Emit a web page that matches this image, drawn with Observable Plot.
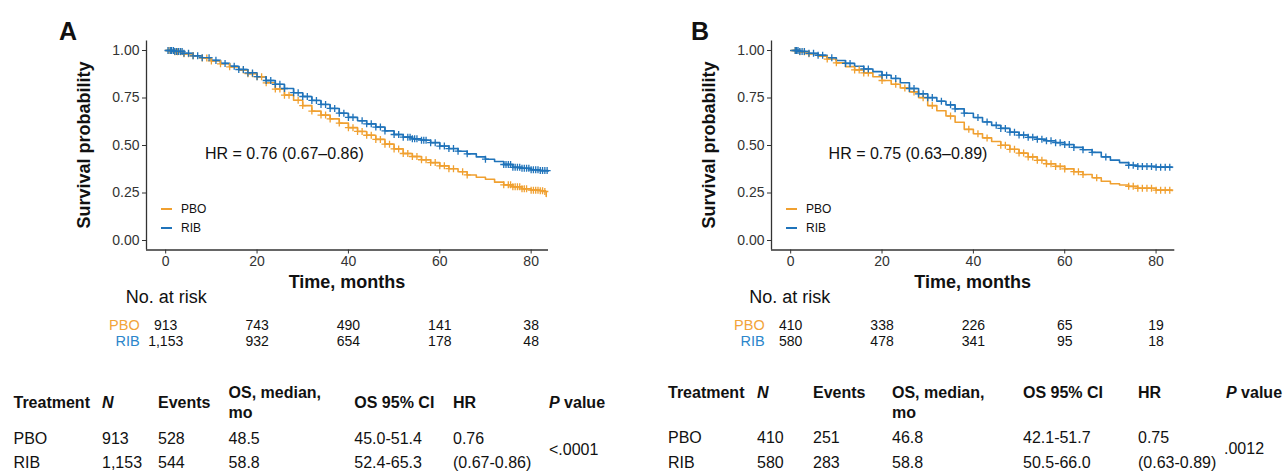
<!DOCTYPE html>
<html><head><meta charset="utf-8">
<script src="https://cdn.jsdelivr.net/npm/d3@7"></script>
<script src="https://cdn.jsdelivr.net/npm/@observablehq/plot@0.6"></script>
<style>
body{margin:0;background:#fff;}
#root{position:relative;width:1286px;height:471px;font-family:"Liberation Sans",Arial,Helvetica,sans-serif;color:#111;overflow:hidden;background:#fff}
.abs{position:absolute;white-space:nowrap;line-height:1}
.wrap{position:absolute}
</style></head><body><div id="root"></div>
<script>
// ---------------- DATA ----------------
const groups = ["PBO", "RIB"];
const groupColors = ["#f0a030", "#1f73ba"];
const riskLabelColors = ["#f2a43a", "#2c86cb"];
const xTicks = [0, 20, 40, 60, 80];
const yTicks = [0, 0.25, 0.5, 0.75, 1];
const riskTimes = [0, 20, 40, 60, 80];

// Panel A — Kaplan-Meier estimates
const aPboTime = [0,2,4,6,8,10,12,14,16,18,20,22,24,26,28,30,32,34,36,38,40,42,44,46,48,50,52,54,56,58,60,62,64,66,68,70,72,74,76,78,80,82,83,83.3];
const aPboSurv = [1,.993,.983,.972,.960,.945,.930,.914,.897,.878,.862,.830,.797,.765,.738,.710,.681,.660,.640,.618,.594,.574,.554,.532,.507,.482,.458,.442,.425,.410,.393,.378,.362,.345,.333,.322,.307,.293,.283,.272,.265,.262,.258,.232];
const aRibTime = [0,2,4,6,8,10,12,14,16,18,20,22,24,26,28,30,32,34,36,38,40,42,44,46,48,50,52,54,56,58,60,62,64,66,68,70,72,74,76,78,80,82,83.7];
const aRibSurv = [1,.995,.985,.972,.962,.948,.932,.917,.900,.882,.862,.842,.822,.800,.778,.758,.737,.716,.695,.670,.648,.630,.614,.597,.577,.558,.544,.535,.528,.515,.497,.484,.470,.456,.440,.428,.416,.400,.385,.380,.372,.368,.365];
const aPboCensor = [0.7,1.2,2,2.6,3.3,4,5,6,8,9,10,12,14,17,18,19,20,21,22,24,25,26,27,29,30,32,34,35,36,38,40,41,42,43,44,45,46,47,48,49,50,51,52,53,54,55,56,57,58,59,60,61,62,63,65,66,74,75,75.5,76,76.5,77,77.5,78,78.5,79,80,80.5,81,81.5,82,82.5,83];
const aRibCensor = [0.5,1,1.3,1.7,2,2.4,2.8,3.2,3.6,4,5,6,7,8,9.5,11,13,15,16,17,18,19,20,22,23,24,25,26,28,29,30,31,32,33,34,35,36,37,38,39,40,41,43,44,45,46,47,48,50,51,52,53,53.5,54,54.5,55,56,56.5,57,58,59,60,61,62,63,64,66,70,74,74.5,75,75.5,76,76.5,77,77.5,78,78.5,79,79.5,80,80.5,81,81.5,82,82.5,83,83.5];
const aRiskPbo = [913, 743, 490, 141, 38];
const aRiskRib = [1153, 932, 654, 178, 48];
const aHr = [{label: "HR = 0.76 (0.67\u20130.86)", x: 8.6, y: 0.456}];

// Panel B
const bPboTime = [0,2,4,6,8,10,12,14,16,18,20,22,24,26,28,30,32,34,36,38,40,42,44,46,48,50,52,54,56,58,60,62,64,66,68,70,72,74,76,80,83.5];
const bPboSurv = [1,.993,.983,.970,.955,.935,.915,.898,.882,.862,.842,.822,.803,.782,.752,.710,.683,.655,.622,.585,.562,.540,.521,.501,.480,.460,.440,.422,.404,.390,.377,.362,.347,.330,.312,.299,.292,.285,.275,.265,.262];
const bRibTime = [0,2,4,6,8,10,12,14,16,18,20,22,24,26,28,30,32,34,36,38,40,42,44,46,48,50,52,54,56,58,60,62,64,66,68,70,72,74,76,80,83.5];
const bRibSurv = [1,.995,.985,.975,.962,.947,.932,.917,.903,.889,.870,.853,.830,.800,.772,.752,.733,.714,.693,.670,.647,.624,.606,.590,.570,.555,.543,.533,.525,.515,.505,.490,.478,.464,.440,.423,.410,.396,.390,.386,.385];
const bPboCensor = [1,2,3,4,8,10,14,15,16,17,20,23,25,27,29,31,35,39,41,43,46,47,48,49,50,51,52,53,54,55,56,57,58,59,60,62,63,64,67,74,75,76,77,78,79,80,81,82,83];
const bRibCensor = [1,1.3,1.6,2,2.5,3,4,5,6,7,9,12,13,16,17,20,21,23,26,27,28,29,30,31,33,35,36,38,41,43,45,46,47,48,49,50,51,52,53,54,55,56,57,58,59,60,61,62,64,66,69,74,75,76,77,78,79,80,81,82,83];
const bRiskPbo = [410, 338, 226, 65, 19];
const bRiskRib = [580, 478, 341, 95, 18];
const bHr = [{label: "HR = 0.75 (0.63\u20130.89)", x: 8.3, y: 0.456}];

// Summary tables
const tableHeader = ["Treatment", "N", "Events", "OS, median,", "OS 95% CI", "HR", "P value"];
const tableHeader2 = "mo";
const aTableRows = [["PBO", "913", "528", "48.5", "45.0-51.4", "0.76"], ["RIB", "1,153", "544", "58.8", "52.4-65.3", "(0.67-0.86)"]];
const aPValue = "<.0001";
const bTableRows = [["PBO", "410", "251", "46.8", "42.1-51.7", "0.75"], ["RIB", "580", "283", "58.8", "50.5-66.0", "(0.63-0.89)"]];
const bPValue = ".0012";

// ---------------- RENDER ----------------
const FONT = '"Liberation Sans", Arial, Helvetica, sans-serif';
const root = document.getElementById("root");

function put(text, x, cy, o = {}) {
  const size = o.size || 16;
  const el = document.createElement("div");
  el.className = "abs";
  if (o.html) el.innerHTML = text; else el.textContent = text;
  el.style.left = x + "px";
  el.style.top = (cy - 0.49 * size) + "px";
  el.style.fontSize = size + "px";
  if (o.weight) el.style.fontWeight = o.weight;
  if (o.italic) el.style.fontStyle = "italic";
  el.style.color = o.color || "#111";
  if (o.center) el.style.transform = "translateX(-50%)";
  root.appendChild(el);
  return el;
}

function stepAt(times, surv, t) {
  let s = surv[0];
  for (let i = 0; i < times.length; i++) if (times[i] <= t) s = surv[i];
  return s;
}

function panel(cfg) {
  const curves = [
    {g: "PBO", t: cfg.pboTime, s: cfg.pboSurv, c: cfg.pboCensor},
    {g: "RIB", t: cfg.ribTime, s: cfg.ribSurv, c: cfg.ribCensor}
  ];
  const lineRows = curves.flatMap(k => k.t.map((t, i) => ({group: k.g, t, s: k.s[i]})));
  const censRows = curves.flatMap(k => k.c.map(t => ({group: k.g, t, s: stepAt(k.t, k.s, t)})));
  const yDomain = [-0.05, 1.05];

  const km = Plot.plot({
    width: 600, height: 300,
    marginLeft: 146, marginRight: cfg.marginRight, marginTop: 40.5, marginBottom: 50.5,
    style: {fontFamily: FONT, fontSize: "14px", background: "transparent", overflow: "visible"},
    x: {domain: cfg.xDomain},
    y: {domain: yDomain},
    color: {domain: groups, range: groupColors},
    marks: [
      Plot.line(lineRows, {x: "t", y: "s", z: "group", stroke: "group", curve: "step-after", strokeWidth: 1.6}),
      Plot.dot(censRows, {x: "t", y: "s", stroke: "group", symbol: "plus", r: 2.4, strokeWidth: 1.3}),
      Plot.text(cfg.hr, {x: "x", y: "y", text: "label", textAnchor: "start", fontSize: 16, fill: "#111"}),
      Plot.ruleX([cfg.xDomain[0]], {stroke: "#333", strokeWidth: 1.3}),
      Plot.ruleY([yDomain[0]], {stroke: "#333", strokeWidth: 1.3}),
      Plot.axisX({ticks: xTicks, tickSize: 4, tickPadding: 2, label: null, fontSize: 14, color: "#333"}),
      Plot.axisY({ticks: yTicks, tickFormat: d3.format(".2f"), tickSize: 4, tickPadding: 3, label: null, fontSize: 14, color: "#333"})
    ]
  });
  const w1 = document.createElement("div");
  w1.className = "wrap";
  w1.style.left = cfg.left + "px"; w1.style.top = "0px"; w1.style.width = "600px";
  w1.appendChild(km);
  root.appendChild(w1);

  // risk table
  const riskRows = [
    ...riskTimes.map((t, i) => ({group: "PBO", t, n: cfg.riskPbo[i]})),
    ...riskTimes.map((t, i) => ({group: "RIB", t, n: cfg.riskRib[i]}))
  ];
  const risk = Plot.plot({
    width: 600, height: 60,
    marginLeft: 146, marginRight: cfg.marginRight, marginTop: 0, marginBottom: 0,
    style: {fontFamily: FONT, fontSize: "14px", background: "transparent", overflow: "visible"},
    x: {domain: cfg.xDomain, axis: null},
    y: {type: "point", domain: groups, range: [24.3, 41], padding: 0, axis: null},
    color: {domain: groups, range: riskLabelColors},
    marks: [
      Plot.text(riskRows, {x: "t", y: "group", text: d => d3.format(",")(d.n), fontSize: 14, fill: "#111"}),
      Plot.text(groups, {x: () => riskTimes[0], y: d => d, text: d => d, fill: d => d, textAnchor: "end", dx: -26, fontSize: 14.5})
    ]
  });
  const w2 = document.createElement("div");
  w2.className = "wrap";
  w2.style.left = cfg.left + "px"; w2.style.top = "300px"; w2.style.width = "600px";
  w2.appendChild(risk);
  root.appendChild(w2);

  // titles / labels
  const axisLeft = cfg.left + 146;
  const axisRight = cfg.left + 600 - cfg.marginRight;
  put(cfg.letter, cfg.letterX, 31, {size: 25, weight: "bold"});
  put("Time, months", (axisLeft + axisRight) / 2, 282.3, {size: 18, weight: "bold", center: true});
  put("No. at risk", cfg.noRiskX, 296.6, {size: 18});
  const yl = document.createElement("div");
  yl.className = "abs";
  yl.textContent = "Survival probability";
  yl.style.left = (axisLeft - 62) + "px";
  yl.style.top = "145px";
  yl.style.fontSize = "18px";
  yl.style.fontWeight = "bold";
  yl.style.transform = "translate(-50%,-50%) rotate(-90deg)";
  root.appendChild(yl);

  // legend
  groups.forEach((g, i) => {
    const cy = [209, 228][i];
    const ln = document.createElement("div");
    ln.className = "abs";
    ln.style.left = (axisLeft + 15) + "px";
    ln.style.top = (cy - 0.8) + "px";
    ln.style.width = "11px";
    ln.style.height = "1.6px";
    ln.style.background = groupColors[i];
    root.appendChild(ln);
    put(g, axisLeft + 35, cy, {size: 12});
  });

  // summary table
  const T = cfg.table;
  tableHeader.forEach((h, j) => {
    const x = T.colX[j];
    if (j === 1) put(h, x, T.headerY, {size: 16, weight: "bold", italic: true});
    else if (j === 3) {
      put(h, x, T.medianY[0], {size: 16, weight: "bold"});
      put(tableHeader2, x, T.medianY[1], {size: 16, weight: "bold"});
    } else if (j === 6) put("<i>P</i> value", x, T.headerY, {size: 16, weight: "bold", html: true});
    else put(h, x, T.headerY, {size: 16, weight: "bold"});
  });
  cfg.rows.forEach((r, i) => {
    r.forEach((v, j) => put(v, T.colX[j], T.rowY[i], {size: 16}));
  });
  put(cfg.pValue, T.pX, T.pY, {size: 16});
}

panel({
  left: 0, marginRight: 52, xDomain: [-4.2, 83.8], letter: "A", letterX: 59, noRiskX: 125.7,
  pboTime: aPboTime, pboSurv: aPboSurv, ribTime: aRibTime, ribSurv: aRibSurv,
  pboCensor: aPboCensor, ribCensor: aRibCensor,
  riskPbo: aRiskPbo, riskRib: aRiskRib, hr: aHr,
  rows: aTableRows, pValue: aPValue,
  table: {colX: [13.5, 102, 158, 228.6, 354.3, 453, 549], headerY: 402.7, medianY: [393.3, 412.7], rowY: [439, 463], pX: 549, pY: 450}
});
panel({
  left: 625, marginRight: 50.7, xDomain: [-4.2, 84.1], letter: "B", letterX: 691, noRiskX: 749.3,
  pboTime: bPboTime, pboSurv: bPboSurv, ribTime: bRibTime, ribSurv: bRibSurv,
  pboCensor: bPboCensor, ribCensor: bRibCensor,
  riskPbo: bRiskPbo, riskRib: bRiskRib, hr: bHr,
  rows: bTableRows, pValue: bPValue,
  table: {colX: [668, 757, 813, 892, 1023, 1138, 1226], headerY: 392.7, medianY: [392.7, 412.7], rowY: [438, 463], pX: 1224, pY: 449.3}
});
</script>
</body></html>
